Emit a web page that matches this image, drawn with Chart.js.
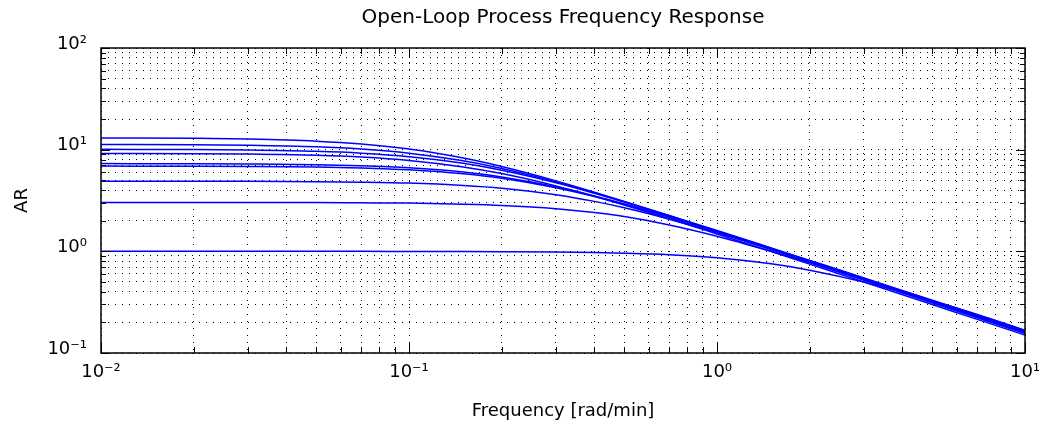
<!DOCTYPE html>
<html>
<head>
<meta charset="utf-8">
<script src="https://cdn.jsdelivr.net/npm/chart.js@4/dist/chart.umd.min.js"></script>
<style>
  html, body { margin: 0; padding: 0; background: #fff; }
  #wrap { width: 1040px; height: 429px; }
</style>
</head>
<body>
<div id="wrap"><canvas id="canvas" width="1040" height="429"></canvas></div>
<script>
'use strict';

// frequency points [rad/min]
const freq = [0.01, 0.02, 0.03, 0.05, 0.07, 0.1, 0.15, 0.2, 0.3, 0.4, 0.5, 0.7, 1, 1.5, 2, 3, 5, 7, 10];

// amplitude ratio, one array per curve
const arA = [13.06, 12.93, 12.72, 12.12, 11.36, 10.13, 8.26, 6.82, 4.93, 3.82, 3.10, 2.25, 1.59, 1.06, 0.80, 0.53, 0.32, 0.228, 0.160];
const arB = [11.27, 11.19, 11.05, 10.66, 10.13, 9.23, 7.76, 6.53, 4.82, 3.77, 3.08, 2.24, 1.60, 1.08, 0.815, 0.548, 0.330, 0.237, 0.166];
const arC = [10.08, 10.02, 9.92, 9.63, 9.24, 8.54, 7.34, 6.27, 4.72, 3.72, 3.05, 2.22, 1.57, 1.05, 0.785, 0.522, 0.312, 0.222, 0.156];
const arD = [9.18, 9.14, 9.05, 8.80, 8.46, 7.84, 6.77, 5.82, 4.40, 3.47, 2.85, 2.09, 1.48, 0.995, 0.748, 0.50, 0.30, 0.214, 0.150];
const arE = [7.29, 7.27, 7.23, 7.12, 6.95, 6.64, 6.03, 5.39, 4.31, 3.51, 2.93, 2.18, 1.57, 1.07, 0.81, 0.543, 0.327, 0.233, 0.163];
const arF = [6.89, 6.87, 6.84, 6.75, 6.61, 6.34, 5.79, 5.23, 4.22, 3.46, 2.90, 2.16, 1.55, 1.045, 0.785, 0.523, 0.314, 0.224, 0.157];
const arG = [4.90, 4.89, 4.88, 4.84, 4.79, 4.69, 4.45, 4.18, 3.61, 3.10, 2.68, 2.07, 1.52, 1.043, 0.79, 0.531, 0.32, 0.2285, 0.160];
const arH = [3.03, 3.03, 3.02, 3.02, 3.00, 2.98, 2.91, 2.83, 2.63, 2.41, 2.20, 1.82, 1.41, 1.00, 0.771, 0.524, 0.317, 0.2265, 0.159];
const arI = [1.00, 1.00, 1.00, 1.00, 1.00, 0.998, 0.996, 0.993, 0.985, 0.974, 0.960, 0.927, 0.865, 0.754, 0.653, 0.498, 0.326, 0.239, 0.1675];

const curves = [arA, arB, arC, arD, arE, arF, arG, arH, arI];

// axis decades and their labels
const xDecades = [0.01, 0.1, 1, 10];
const xTickLabels = ['10\u207B\u00B2', '10\u207B\u00B9', '10\u2070', '10\u00B9'];
const yDecades = [0.1, 1, 10, 100];
const yTickLabels = ['10\u207B\u00B9', '10\u2070', '10\u00B9', '10\u00B2'];

function logTicks(decades) {
    var ticks = [];
    for (var i = 0; i < decades.length - 1; i++) {
        for (var m = 1; m <= 9; m++) {
            ticks.push({ value: +(m * decades[i]).toPrecision(6), major: m === 1 });
        }
    }
    ticks.push({ value: decades[decades.length - 1], major: true });
    return ticks;
}

function decadeLabel(decades, labels) {
    return function (value) {
        for (var i = 0; i < decades.length; i++) {
            if (Math.abs(value / decades[i] - 1) < 1e-6) return labels[i];
        }
        return '';
    };
}

// box round the plot plus inward tick marks, matlab style
const frame = {
    id: 'frame',
    afterDatasetsDraw: function (chart) {
        var ctx = chart.ctx, a = chart.chartArea, x = chart.scales.x, y = chart.scales.y;
        ctx.save();
        ctx.strokeStyle = '#000';
        ctx.lineWidth = 1;
        ctx.beginPath();
        x.ticks.forEach(function (t) {
            var px = Math.round(x.getPixelForValue(t.value)) + 0.5, len = t.major ? 10 : 6;
            ctx.moveTo(px, a.bottom); ctx.lineTo(px, a.bottom - len);
            ctx.moveTo(px, a.top); ctx.lineTo(px, a.top + len);
        });
        y.ticks.forEach(function (t) {
            var py = Math.round(y.getPixelForValue(t.value)) + 0.5, len = t.major ? 9 : 5;
            ctx.moveTo(a.left, py); ctx.lineTo(a.left + len, py);
            ctx.moveTo(a.right, py); ctx.lineTo(a.right - len, py);
        });
        ctx.stroke();
        ctx.lineWidth = 1.5;
        ctx.strokeRect(Math.round(a.left), Math.round(a.top), Math.round(a.right - a.left), Math.round(a.bottom - a.top));
        ctx.restore();
    }
};

const font = 'DejaVu Sans';

new Chart(document.getElementById('canvas').getContext('2d'), {
    type: 'line',
    data: {
        datasets: curves.map(function (arr) {
            return {
                data: freq.map(function (f, i) { return { x: f, y: arr[i] }; }),
                borderColor: '#0000ff',
                borderWidth: 1.5,
                pointRadius: 0,
                fill: false,
                cubicInterpolationMode: 'monotone'
            };
        })
    },
    options: {
        responsive: false,
        animation: false,
        events: [],
        layout: { padding: { left: 0, right: 15, top: 0, bottom: 0 } },
        plugins: {
            legend: { display: false },
            tooltip: { enabled: false },
            title: {
                display: true,
                fullSize: false,
                text: 'Open-Loop Process Frequency Response',
                color: '#000',
                font: { family: font, size: 20, weight: 'normal', lineHeight: 1.2 },
                padding: { top: 6, bottom: 18 }
            }
        },
        scales: {
            x: {
                type: 'logarithmic',
                min: 0.01,
                max: 10,
                afterBuildTicks: function (scale) { scale.ticks = logTicks(xDecades); },
                afterFit: function (scale) {
                    scale.height = 76;
                    scale.paddingLeft = 0;
                    scale.paddingRight = 0;
                },
                grid: { color: '#000', lineWidth: 1, drawTicks: false },
                border: { display: false, dash: [1, 6] },
                ticks: {
                    autoSkip: false,
                    maxRotation: 0,
                    padding: 9,
                    color: '#000',
                    font: { family: font, size: 18 },
                    callback: decadeLabel(xDecades, xTickLabels)
                },
                title: {
                    display: true,
                    text: 'Frequency [rad/min]',
                    color: '#000',
                    font: { family: font, size: 18, lineHeight: 1.2 },
                    padding: { top: 0, bottom: 7.2 }
                }
            },
            y: {
                type: 'logarithmic',
                min: 0.1,
                max: 100,
                afterBuildTicks: function (scale) { scale.ticks = logTicks(yDecades); },
                afterFit: function (scale) { scale.width = 101; },
                grid: { color: '#000', lineWidth: 1, drawTicks: false },
                border: { display: false, dash: [1, 6] },
                ticks: {
                    autoSkip: false,
                    padding: 14,
                    labelOffset: -4,
                    color: '#000',
                    font: { family: font, size: 18 },
                    callback: decadeLabel(yDecades, yTickLabels)
                },
                title: {
                    display: true,
                    text: 'AR',
                    color: '#000',
                    font: { family: font, size: 18, lineHeight: 1.2 },
                    padding: { top: 12, bottom: 0 }
                }
            }
        }
    },
    plugins: [frame]
});
</script>
</body>
</html>
